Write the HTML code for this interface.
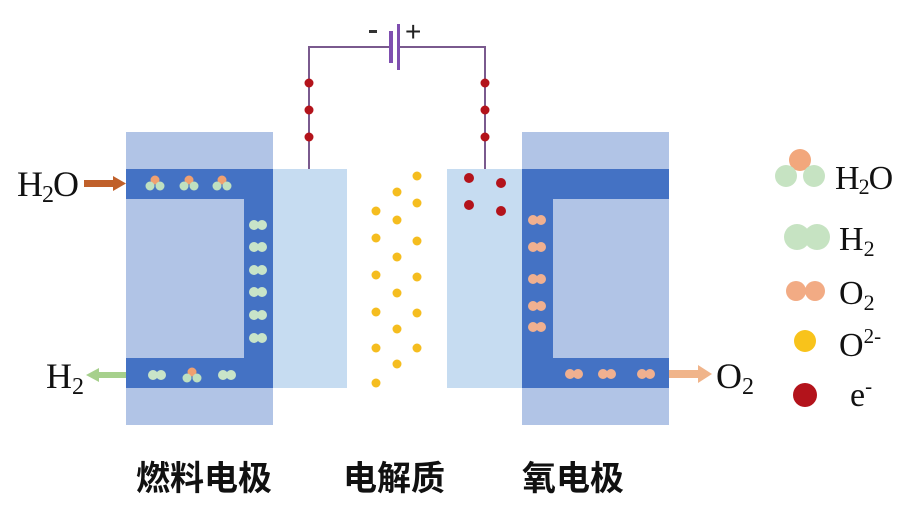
<!DOCTYPE html>
<html><head><meta charset="utf-8"><style>
body{margin:0;background:#fff}
svg{display:block}
.s{font-family:"Liberation Serif",serif;fill:#111}
.c{font-family:"Liberation Sans","Noto Sans CJK SC",sans-serif;font-weight:bold;font-size:34px;fill:#111}
</style></head><body>
<svg width="909" height="506" viewBox="0 0 909 506" xmlns="http://www.w3.org/2000/svg">
<defs>
<g id="h2o"><circle cx="0" cy="-3" r="4.5" fill="#f0a070"/><circle cx="-5" cy="3" r="4.5" fill="#bfe0c0"/><circle cx="5" cy="3" r="4.5" fill="#bfe0c0"/></g>
<g id="h2"><circle cx="-4" cy="0" r="5" fill="#c8e4c8"/><circle cx="4" cy="0" r="5" fill="#c8e4c8"/></g>
<g id="o2"><circle cx="-4" cy="0" r="5" fill="#f0b090"/><circle cx="4" cy="0" r="5" fill="#f0b090"/></g>
</defs>
<polyline points="309,169 309,47 391,47" fill="none" stroke="#7a5a8e" stroke-width="2"/>
<polyline points="398,47 485,47 485,169" fill="none" stroke="#7a5a8e" stroke-width="2"/>
<rect x="389" y="31" width="4" height="32" fill="#7f4fb0"/>
<rect x="397" y="24" width="3" height="46" fill="#7f4fb0"/>
<rect x="369" y="30" width="8" height="3" fill="#333"/>
<text x="405" y="41" font-family="Liberation Sans,sans-serif" font-size="28" fill="#222">+</text>
<g fill="#b3131b"><circle cx="309" cy="83" r="4.5"/><circle cx="309" cy="110" r="4.5"/><circle cx="309" cy="137" r="4.5"/><circle cx="485" cy="83" r="4.5"/><circle cx="485" cy="110" r="4.5"/><circle cx="485" cy="137" r="4.5"/></g>
<rect x="126" y="132" width="147" height="293" fill="#b1c4e6"/>
<rect x="126" y="169" width="147" height="30" fill="#4472c4"/>
<rect x="126" y="358" width="147" height="30" fill="#4472c4"/>
<rect x="244" y="169" width="29" height="219" fill="#4472c4"/>
<rect x="273" y="169" width="74" height="219" fill="#c6dcf1"/>
<rect x="447" y="169" width="75" height="219" fill="#c6dcf1"/>
<rect x="522" y="132" width="147" height="293" fill="#b1c4e6"/>
<rect x="522" y="169" width="147" height="30" fill="#4472c4"/>
<rect x="522" y="358" width="147" height="30" fill="#4472c4"/>
<rect x="522" y="169" width="31" height="219" fill="#4472c4"/>
<use href="#h2o" x="155" y="183"/><use href="#h2o" x="189" y="183"/><use href="#h2o" x="222" y="183"/>
<use href="#h2" x="258" y="225"/><use href="#h2" x="258" y="247"/><use href="#h2" x="258" y="270"/><use href="#h2" x="258" y="292"/><use href="#h2" x="258" y="315"/><use href="#h2" x="258" y="338"/>
<use href="#h2" x="157" y="375"/><use href="#h2o" x="192" y="375"/><use href="#h2" x="227" y="375"/>
<use href="#o2" x="537" y="220"/><use href="#o2" x="537" y="247"/><use href="#o2" x="537" y="279"/><use href="#o2" x="537" y="306"/><use href="#o2" x="537" y="327"/>
<use href="#o2" x="574" y="374"/><use href="#o2" x="607" y="374"/><use href="#o2" x="646" y="374"/>
<g fill="#f5bd1f">
<circle cx="376" cy="211" r="4.5"/><circle cx="376" cy="238" r="4.5"/><circle cx="376" cy="275" r="4.5"/><circle cx="376" cy="312" r="4.5"/><circle cx="376" cy="348" r="4.5"/><circle cx="376" cy="383" r="4.5"/>
<circle cx="397" cy="192" r="4.5"/><circle cx="397" cy="220" r="4.5"/><circle cx="397" cy="257" r="4.5"/><circle cx="397" cy="293" r="4.5"/><circle cx="397" cy="329" r="4.5"/><circle cx="397" cy="364" r="4.5"/>
<circle cx="417" cy="176" r="4.5"/><circle cx="417" cy="203" r="4.5"/><circle cx="417" cy="241" r="4.5"/><circle cx="417" cy="277" r="4.5"/><circle cx="417" cy="313" r="4.5"/><circle cx="417" cy="348" r="4.5"/>
</g>
<g fill="#b3131b"><circle cx="469" cy="178" r="5"/><circle cx="501" cy="183" r="5"/><circle cx="469" cy="205" r="5"/><circle cx="501" cy="211" r="5"/></g>
<rect x="84" y="180" width="30" height="7" fill="#c0602a"/><polygon points="113,176 126,183.5 113,191" fill="#c0602a"/>
<rect x="98" y="372" width="28" height="6" fill="#a6d08c"/><polygon points="99,368 86,375 99,382" fill="#a6d08c"/>
<rect x="669" y="370" width="30" height="8" fill="#f0b48a"/><polygon points="698,365 712,374 698,383" fill="#f0b48a"/>
<text class="s" x="17" y="196" font-size="36" letter-spacing="-1">H<tspan font-size="24" dy="6">2</tspan><tspan dy="-6">O</tspan></text>
<text class="s" x="46" y="388" font-size="36">H<tspan font-size="24" dy="6">2</tspan></text>
<text class="s" x="716" y="388" font-size="36">O<tspan font-size="24" dy="6">2</tspan></text>
<circle cx="800" cy="160" r="11" fill="#f2a77c"/><circle cx="786" cy="176" r="11" fill="#c6e3c2"/><circle cx="814" cy="176" r="11" fill="#c6e3c2"/>
<text class="s" x="835" y="189" font-size="34" letter-spacing="-1">H<tspan font-size="22" dy="5">2</tspan><tspan dy="-5">O</tspan></text>
<circle cx="797" cy="237" r="13" fill="#c6e3c2"/><circle cx="817" cy="237" r="13" fill="#c6e3c2"/>
<text class="s" x="839" y="250" font-size="34">H<tspan font-size="22" dy="6">2</tspan></text>
<circle cx="796" cy="291" r="10" fill="#f2ab84"/><circle cx="815" cy="291" r="10" fill="#f2ab84"/>
<text class="s" x="839" y="304" font-size="34">O<tspan font-size="22" dy="6">2</tspan></text>
<circle cx="805" cy="341" r="11" fill="#f8c31b"/>
<text class="s" x="839" y="356" font-size="34">O<tspan font-size="21" dy="-13">2-</tspan></text>
<circle cx="805" cy="395" r="12" fill="#b3131b"/>
<text class="s" x="850" y="406" font-size="34">e<tspan font-size="21" dy="-13">-</tspan></text>
<text class="c" x="136" y="490">燃料电极</text>
<text class="c" x="343" y="490">电解质</text>
<text class="c" x="522" y="490">氧电极</text>
</svg>
</body></html>
